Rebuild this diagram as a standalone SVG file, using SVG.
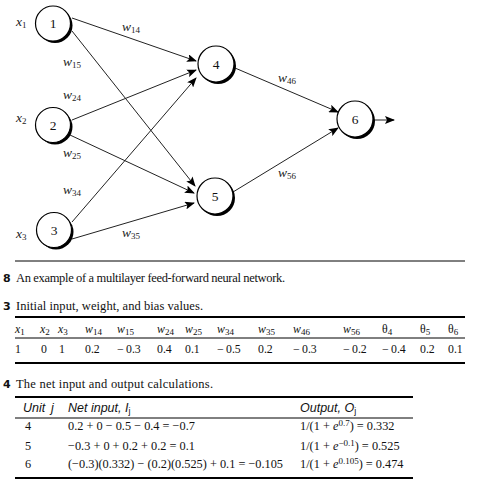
<svg xmlns="http://www.w3.org/2000/svg" width="489" height="480" viewBox="0 0 489 480">
<defs>
<marker id="arr" markerWidth="10" markerHeight="8" refX="9" refY="4" orient="auto" markerUnits="userSpaceOnUse">
<path d="M0,0 L10,4 L0,8 L2,4 z" fill="#000"/>
</marker>
</defs>
<style>
.it{font-style:italic}
.node text{font-family:"Liberation Serif",serif;font-size:13.5px;text-anchor:middle;fill:#111}
.shadow{fill:#000}
.disc{fill:#fff;stroke:#000;stroke-width:1.2}
.edge{stroke:#222;stroke-width:1;fill:none;marker-end:url(#arr)}
.wl{font-family:"Liberation Serif",serif;font-size:13.5px;font-style:italic;fill:#222}
.sub{font-size:9px;font-style:normal}
.cap{font-family:"Liberation Serif",serif;font-size:12.5px;fill:#111}
.capn{font-family:"DejaVu Sans","Liberation Sans",sans-serif;font-size:11px;font-weight:bold;fill:#111}
.tab{font-family:"Liberation Serif",serif;font-size:11.8px;fill:#111}
.tab4{font-family:"Liberation Serif",serif;font-size:12.3px;fill:#111}
.th{font-family:"Liberation Sans",sans-serif;font-style:italic;font-size:12.5px;fill:#111}
.sup{font-size:9px}
.rule{stroke:#000;stroke-width:1}
.thick{stroke:#000;stroke-width:2.2}
</style>
<rect width="489" height="480" fill="#fff"/>

<g id="connectors">
<line class="edge" x1="72" y1="18" x2="196" y2="61"/>
<line class="edge" x1="72" y1="31" x2="195" y2="186"/>
<line class="edge" x1="72" y1="120" x2="196" y2="70"/>
<line class="edge" x1="70" y1="135" x2="194" y2="193"/>
<line class="edge" x1="72" y1="222" x2="196" y2="78"/>
<line class="edge" x1="72" y1="239" x2="194" y2="203"/>
<line class="edge" x1="235" y1="68" x2="338" y2="112"/>
<line class="edge" x1="233" y1="192" x2="338" y2="128"/>
<line class="edge" x1="373" y1="120" x2="394" y2="120"/>
</g>

<g id="node1" class="node"><circle class="shadow" cx="55" cy="25.5" r="17.5"/><circle class="disc" cx="53" cy="23.5" r="17.5"/><text x="53" y="28">1</text></g>
<g id="node2" class="node"><circle class="shadow" cx="55" cy="127" r="17.5"/><circle class="disc" cx="53" cy="125" r="17.5"/><text x="53" y="129.5">2</text></g>
<g id="node3" class="node"><circle class="shadow" cx="56" cy="232" r="17.5"/><circle class="disc" cx="54" cy="230" r="17.5"/><text x="54" y="234.5">3</text></g>
<g id="node4" class="node"><circle class="shadow" cx="218" cy="66" r="18"/><circle class="disc" cx="216" cy="64" r="18"/><text x="216" y="68.5">4</text></g>
<g id="node5" class="node"><circle class="shadow" cx="217" cy="198" r="18"/><circle class="disc" cx="215" cy="196" r="18"/><text x="215" y="200.5">5</text></g>
<g id="node6" class="node"><circle class="shadow" cx="357" cy="121" r="18"/><circle class="disc" cx="355" cy="119" r="18"/><text x="355" y="123.5">6</text></g>

<g id="labels">
<text class="wl" x="16" y="26">x<tspan class="sub" dy="2">1</tspan></text>
<text class="wl" x="16" y="122">x<tspan class="sub" dy="2">2</tspan></text>
<text class="wl" x="16" y="238">x<tspan class="sub" dy="2">3</tspan></text>
<text class="wl" x="122" y="31">w<tspan class="sub" dy="2">14</tspan></text>
<text class="wl" x="63" y="66">w<tspan class="sub" dy="2">15</tspan></text>
<text class="wl" x="63" y="99">w<tspan class="sub" dy="2">24</tspan></text>
<text class="wl" x="63" y="157">w<tspan class="sub" dy="2">25</tspan></text>
<text class="wl" x="63" y="194">w<tspan class="sub" dy="2">34</tspan></text>
<text class="wl" x="122" y="237">w<tspan class="sub" dy="2">35</tspan></text>
<text class="wl" x="278" y="82">w<tspan class="sub" dy="2">46</tspan></text>
<text class="wl" x="278" y="177">w<tspan class="sub" dy="2">56</tspan></text>
</g>

<g id="captions">
<line class="rule" x1="15" y1="261" x2="465" y2="261"/>
<text class="capn" x="3" y="282">8</text>
<text class="cap" x="16" y="282" textLength="269" lengthAdjust="spacing">An example of a multilayer feed-forward neural network.</text>
<text class="capn" x="3" y="310">3</text>
<text class="cap" x="16" y="310" textLength="187" lengthAdjust="spacing">Initial input, weight, and bias values.</text>
<line class="thick" x1="15" y1="317" x2="465" y2="317"/>
</g>

<g id="table3">
<text class="tab it" x="15" y="333">x<tspan class="sub" dy="1.5">1</tspan></text>
<text class="tab it" x="40" y="333">x<tspan class="sub" dy="1.5">2</tspan></text>
<text class="tab it" x="58" y="333">x<tspan class="sub" dy="1.5">3</tspan></text>
<text class="tab it" x="85" y="333">w<tspan class="sub" dy="1.5">14</tspan></text>
<text class="tab it" x="117" y="333">w<tspan class="sub" dy="1.5">15</tspan></text>
<text class="tab it" x="157" y="333">w<tspan class="sub" dy="1.5">24</tspan></text>
<text class="tab it" x="185" y="333">w<tspan class="sub" dy="1.5">25</tspan></text>
<text class="tab it" x="217" y="333">w<tspan class="sub" dy="1.5">34</tspan></text>
<text class="tab it" x="258" y="333">w<tspan class="sub" dy="1.5">35</tspan></text>
<text class="tab it" x="293" y="333">w<tspan class="sub" dy="1.5">46</tspan></text>
<text class="tab it" x="343" y="333">w<tspan class="sub" dy="1.5">56</tspan></text>
<text class="tab" x="382" y="333">θ<tspan class="sub" dy="1.5">4</tspan></text>
<text class="tab" x="420" y="333">θ<tspan class="sub" dy="1.5">5</tspan></text>
<text class="tab" x="448" y="333">θ<tspan class="sub" dy="1.5">6</tspan></text>
<line class="rule" x1="15" y1="338" x2="465" y2="338"/>
<text class="tab" y="353"><tspan x="15">1</tspan><tspan x="41">0</tspan><tspan x="59">1</tspan><tspan x="85">0.2</tspan><tspan x="117">−&#8201;0.3</tspan><tspan x="157">0.4</tspan><tspan x="185">0.1</tspan><tspan x="217">−&#8201;0.5</tspan><tspan x="258">0.2</tspan><tspan x="293">−&#8201;0.3</tspan><tspan x="343">−&#8201;0.2</tspan><tspan x="382">−&#8201;0.4</tspan><tspan x="420">0.2</tspan><tspan x="448">0.1</tspan></text>
<line class="thick" x1="15" y1="363" x2="465" y2="363"/>
</g>

<g id="table4">
<text class="capn" x="3" y="388">4</text>
<text class="cap" x="16" y="388" textLength="197" lengthAdjust="spacing">The net input and output calculations.</text>
<line class="thick" x1="15" y1="397" x2="413" y2="397"/>
<text class="th" x="23" y="412">Unit<tspan x="51">j</tspan></text>
<text class="th" x="68" y="412">Net input, I<tspan class="sub" dy="2" font-style="italic">j</tspan></text>
<text class="th" x="300" y="412">Output, O<tspan class="sub" dy="2" font-style="italic">j</tspan></text>
<line class="rule" x1="15" y1="418" x2="413" y2="418"/>
<text class="tab4" x="25" y="430">4</text>
<text class="tab4" x="68" y="430">0.2 + 0 − 0.5 − 0.4 = −0.7</text>
<text class="tab4" x="300" y="430">1/(1 + <tspan class="it">e</tspan><tspan class="sup" dy="-4.5">0.7</tspan><tspan dy="4.5">) = 0.332</tspan></text>
<text class="tab4" x="25" y="450">5</text>
<text class="tab4" x="68" y="450">−0.3 + 0 + 0.2 + 0.2 = 0.1</text>
<text class="tab4" x="300" y="450">1/(1 + <tspan class="it">e</tspan><tspan class="sup" dy="-4.5">−0.1</tspan><tspan dy="4.5">) = 0.525</tspan></text>
<text class="tab4" x="25" y="468">6</text>
<text class="tab4" x="68" y="468">(−0.3)(0.332) − (0.2)(0.525) + 0.1 = −0.105</text>
<text class="tab4" x="300" y="468">1/(1 + <tspan class="it">e</tspan><tspan class="sup" dy="-4.5">0.105</tspan><tspan dy="4.5">) = 0.474</tspan></text>
<line class="thick" x1="15" y1="478" x2="413" y2="478"/>
</g>
</svg>
